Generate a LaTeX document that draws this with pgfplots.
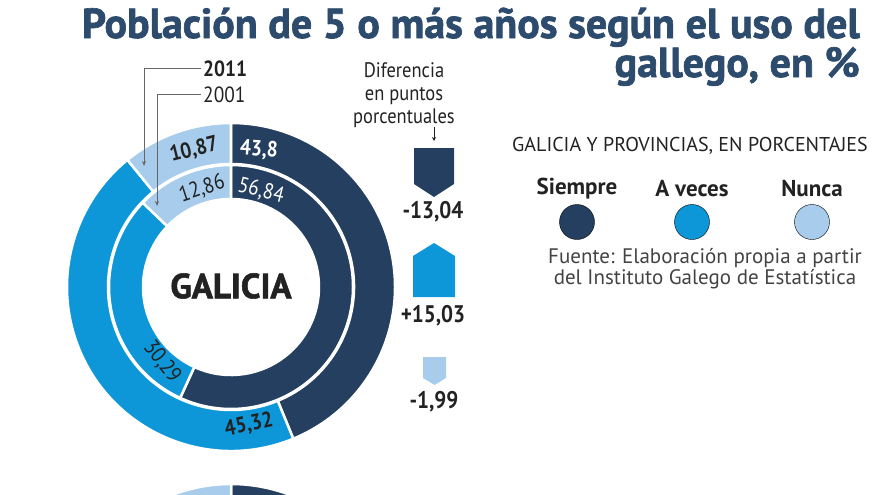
\documentclass[border=0pt]{standalone}
\usepackage{pgfplots}
\pgfplotsset{compat=1.18}
\usepackage{pgfplotstable}
\usetikzlibrary{arrows.meta}
\usepackage{fontspec}
\setmainfont{PT Sans}
\newfontfamily\heavyfont[FakeBold=1.6]{PT Sans Bold}
\newfontfamily\condfont[FakeStretch=0.88]{PT Sans}

\definecolor{c0}{HTML}{253F60}   % Siempre
\definecolor{c1}{HTML}{0D97D9}   % A veces
\definecolor{c2}{HTML}{A8CDEC}   % Nunca
\definecolor{titleblue}{HTML}{2D4B6D}
\definecolor{txt}{HTML}{222222}

% Galicia, 2011 (outer ring)
\pgfplotstableread{
cat val
Siempre 43.80
Aveces 45.32
Nunca 10.87
}\galiciaA
% Galicia, 2001 (inner ring)
\pgfplotstableread{
cat val
Siempre 56.84
Aveces 30.29
Nunca 12.86
}\galiciaB
% next chart, only its top edge shows
\pgfplotstableread{
cat val
Siempre 45
Aveces 42
Nunca 13
}\nextA

% ring: table, cx, cy, r in, r out
\newcommand\ring[5]{%
  \gdef\acc{90}%
  \pgfplotstableforeachcolumnelement{val}\of#1\as\v{%
    \pgfmathsetmacro\nxt{\acc-3.6*\v}%
    \edef\col{c\pgfplotstablerow}%
    \fill[\col, draw=white, line width=2.5bp]
      ([shift={(\acc:#5bp)}]axis cs:#2,#3) arc[start angle=\acc, end angle=\nxt, radius=#5bp]
      -- ([shift={(\nxt:#4bp)}]axis cs:#2,#3) arc[start angle=\nxt, end angle=\acc, radius=#4bp] -- cycle;
    \global\let\acc\nxt
  }%
}

\begin{document}
\begin{tikzpicture}
\begin{axis}[
    x=1bp, y=1bp,
    xmin=0, xmax=880, ymin=0, ymax=495,
    y dir=reverse,
    hide axis,
    clip=false,
]
\pgfplotsextra{%
  \ring{\galiciaA}{231}{287}{123}{164}%
  \ring{\galiciaB}{231}{287}{88}{122}%
  \ring{\nextA}{231}{648}{123}{164}%
}

% difference markers
\addplot[fill=c0, draw=none] coordinates {(414,148) (454,148) (454,184) (434,197) (414,184)};
\addplot[fill=c1, draw=none] coordinates {(413,297) (455,297) (455,256) (434,243) (413,256)};
\addplot[fill=c2, draw=none] coordinates {(423,357) (446,357) (446,378) (434.5,385) (423,378)};

% legend dots
\addplot[only marks, mark=*, mark size=17.5bp, mark options={draw=none, fill=c0}] coordinates {(577,222)};
\addplot[only marks, mark=*, mark size=17.5bp, mark options={draw=none, fill=c1}] coordinates {(692,222)};
\addplot[only marks, mark=*, mark size=17.5bp, mark options={draw=none, fill=c2}] coordinates {(812,222)};

% title
\node[anchor=base east, text=titleblue, font=\heavyfont\fontsize{42bp}{42bp}\selectfont, inner sep=0pt]
  at (axis cs:860,38) {Población de 5 o más años según el uso del};
\node[anchor=base east, text=titleblue, font=\heavyfont\fontsize{42bp}{42bp}\selectfont, inner sep=0pt]
  at (axis cs:860,77) {gallego, en \%};

% year leaders
\draw[gray!80!black, line width=0.9bp, -{Stealth[length=5bp,width=4bp]}]
  (axis cs:201,68) -- (axis cs:144,68) -- (axis cs:144,166);
\draw[gray!80!black, line width=0.9bp, -{Stealth[length=5bp,width=4bp]}]
  (axis cs:201,94) -- (axis cs:157,94) -- (axis cs:157,206);
\node[anchor=west, text=txt, font=\condfont\bfseries\fontsize{22bp}{22bp}\selectfont, inner sep=0pt]
  at (axis cs:203,69) {2011};
\node[anchor=west, text=txt, font=\condfont\fontsize{22bp}{22bp}\selectfont, inner sep=0pt]
  at (axis cs:203,95) {2001};

% ring labels
\node[text=white, font=\condfont\bfseries\fontsize{22bp}{22bp}\selectfont, rotate=-4, inner sep=0pt]
  at (axis cs:259,150) {43,8};
\node[text=txt, font=\condfont\bfseries\fontsize{22bp}{22bp}\selectfont, rotate=14, inner sep=0pt]
  at (axis cs:194,150) {10,87};
\node[text=white, font=\condfont\fontsize{22bp}{22bp}\selectfont, rotate=-14, inner sep=0pt]
  at (axis cs:261,191) {56,84};
\node[text=txt, font=\condfont\fontsize{22bp}{22bp}\selectfont, rotate=18, inner sep=0pt]
  at (axis cs:202,189) {12,86};
\node[text=txt, font=\condfont\fontsize{22bp}{22bp}\selectfont, rotate=-52, inner sep=0pt]
  at (axis cs:162,362) {30,29};
\node[text=txt, font=\condfont\bfseries\fontsize{22bp}{22bp}\selectfont, rotate=12, inner sep=0pt]
  at (axis cs:249,425) {45,32};
\node[text=txt, font=\heavyfont\fontsize{35bp}{35bp}\selectfont]
  at (axis cs:231,286) {GALICIA};

% differences
\node[align=center, text=txt, font=\condfont\fontsize{21bp}{23bp}\selectfont]
  at (axis cs:404,95) {Diferencia\\en puntos\\porcentuales};
\draw[txt, line width=0.7bp, -{Stealth[length=4bp,width=4bp]}] (axis cs:434,127) -- (axis cs:434,141);
\node[text=txt, font=\condfont\bfseries\fontsize{24bp}{24bp}\selectfont] at (axis cs:433,212) {-13,04};
\node[text=txt, font=\condfont\bfseries\fontsize{24bp}{24bp}\selectfont] at (axis cs:433,316) {+15,03};
\node[text=txt, font=\condfont\bfseries\fontsize{24bp}{24bp}\selectfont] at (axis cs:434,402) {-1,99};

% legend
\node[text=txt, font=\fontsize{20bp}{20bp}\selectfont] at (axis cs:690,146) {GALICIA Y PROVINCIAS, EN PORCENTAJES};
\node[text=txt, font=\bfseries\fontsize{23bp}{23bp}\selectfont] at (axis cs:577,189) {Siempre};
\node[text=txt, font=\bfseries\fontsize{23bp}{23bp}\selectfont] at (axis cs:692,189) {A veces};
\node[text=txt, font=\bfseries\fontsize{23bp}{23bp}\selectfont] at (axis cs:812,189) {Nunca};
\node[align=center, text=txt!85, font=\fontsize{21bp}{21bp}\selectfont] at (axis cs:705,269)
  {Fuente: Elaboración propia a partir\\del Instituto Galego de Estatística};
\end{axis}
\pgfresetboundingbox
\path (current axis.south west) rectangle (current axis.north east);
\end{tikzpicture}
\end{document}
